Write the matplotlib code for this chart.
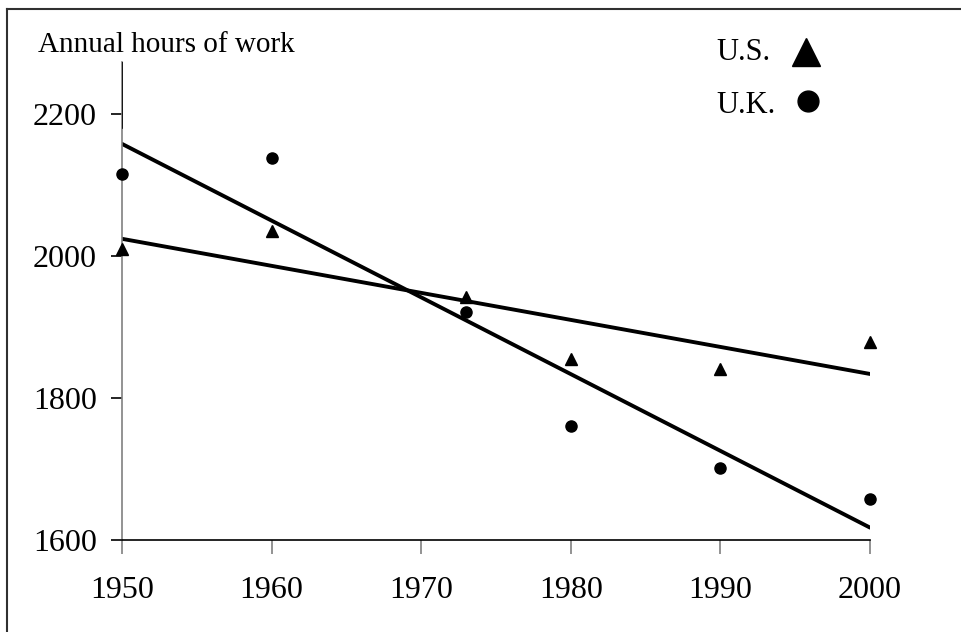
import matplotlib.pyplot as plt
from matplotlib.lines import Line2D
import numpy as np

plt.rcParams['font.family'] = ['Liberation Serif', 'DejaVu Serif']

# data
years = [1950, 1960, 1973, 1980, 1990, 2000]
us_hours = [2010, 2035, 1942, 1855, 1841, 1879]
uk_hours = [2115, 2138, 1921, 1760, 1701, 1658]
x_ticks = [1950, 1960, 1970, 1980, 1990, 2000]
y_ticks = [1600, 1800, 2000, 2200]

fig = plt.figure(figsize=(9.62, 6.32), dpi=100)
ax = fig.add_axes([0.1268, 0.1456, 0.7776, 0.7563])

# least squares trend lines
xs = np.array([years[0], years[-1]])
for hours in (us_hours, uk_hours):
    b = np.polyfit(years, hours, 1)
    ax.plot(xs, np.polyval(b, xs), color='black', lw=2.8, solid_capstyle='round', zorder=2)

ax.plot(years, us_hours, '^', color='black', ms=9, clip_on=False, zorder=3)
ax.plot(years, uk_hours, 'o', color='black', ms=8, clip_on=False, zorder=3)

ax.set_xlim(1950, 2000)
ax.set_ylim(1600, 2273)
ax.set_xticks(x_ticks)
ax.set_yticks(y_ticks)
ax.tick_params(labelsize=23, direction='out', length=10, width=1.2, color='#808080')
ax.tick_params(axis='x', pad=16)
ax.tick_params(axis='y', length=8, color='black', pad=10)

for s in ('top', 'right'):
    ax.spines[s].set_visible(False)
ax.spines['left'].set_color('#808080')
ax.spines['left'].set_linewidth(1.2)
ax.spines['bottom'].set_color('black')
ax.spines['bottom'].set_linewidth(1.2)
# black upper part of the y axis line
ax.axvline(1950, ymin=(2180 - 1600) / 673, ymax=1, color='black', lw=1.2, zorder=4)

fig.text(38 / 962, 1 - 52 / 632, 'Annual hours of work', fontsize=21, ha='left', va='baseline')

# legend drawn as in the original
fig.text(716 / 962, 1 - 60 / 632, 'U.S.', fontsize=22, ha='left', va='baseline')
fig.text(716 / 962, 1 - 113 / 632, 'U.K.', fontsize=22, ha='left', va='baseline')
fig.add_artist(Line2D([806 / 962], [1 - 52 / 632], marker='^', ms=20, color='black'))
fig.add_artist(Line2D([808 / 962], [1 - 101 / 632], marker='o', ms=15, color='black'))

# partial frame around the figure
fig.add_artist(Line2D([7 / 962, 7 / 962], [0, 1 - 8.5 / 632], color='#303030', lw=1.5))
fig.add_artist(Line2D([7 / 962, 1], [1 - 8.5 / 632, 1 - 8.5 / 632], color='#303030', lw=1.5))

fig.savefig('out.png', dpi=100)
